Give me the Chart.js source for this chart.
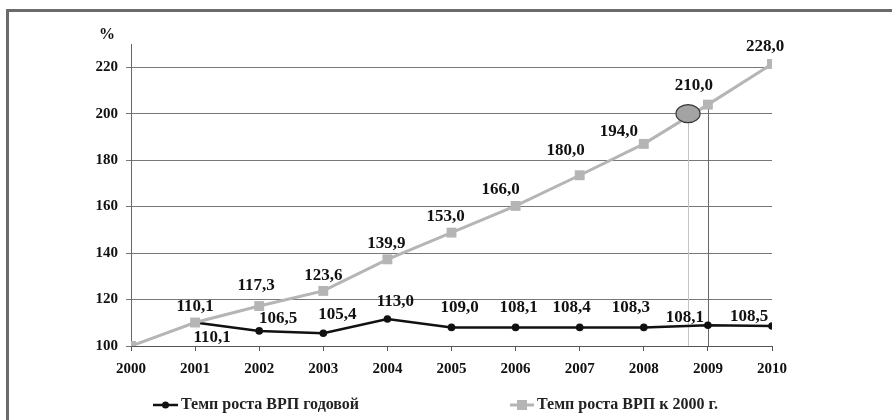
<!DOCTYPE html>
<html>
<head>
<meta charset="utf-8">
<script src="https://cdn.jsdelivr.net/npm/chart.js@4.4.1/dist/chart.umd.min.js"></script>
<style>
    html, body { margin: 0; padding: 0; background: #fff; }
    #wrap { width: 892px; height: 420px; }
</style>
</head>
<body>
<div id="wrap"><canvas id="grpChart" width="892" height="420"></canvas></div>
<script>
/* ---------- data ---------- */

const years = ["2000", "2001", "2002", "2003", "2004", "2005", "2006", "2007", "2008", "2009", "2010"];

// annual growth, % (marker positions as drawn)
const annualGrowth = [null, 110.1, 106.5, 105.5, 111.6, 108.0, 108.0, 108.0, 108.0, 108.9, 108.6];
const annualLabels = [null, "110,1", "106,5", "105,4", "113,0", "109,0", "108,1", "108,4", "108,3", "108,1", "108,5"];

// growth vs 2000, % (marker positions as drawn)
const indexGrowth = [100, 110.1, 117.2, 123.7, 137.3, 148.8, 160.3, 173.5, 187.0, 203.9, 221.4];
const indexLabels = [null, "110,1", "117,3", "123,6", "139,9", "153,0", "166,0", "180,0", "194,0", "210,0", "228,0"];

const yTicks = [100, 120, 140, 160, 180, 200, 220];

const seriesNames = ["Темп роста ВРП годовой", "Темп роста ВРП к 2000 г."];

// grey ellipse mark and the two drop lines
const ellipseMark = { x: 8.69, y: 200 };
const dropLineX = 9;

/* ---------- label placement (px, relative to point) ---------- */

const indexLabelOffset = [null, [0, -16], [-3, -20], [0, -15], [-1, -16], [-6, -16], [-15, -16], [-14, -25], [-25, -12], [-14, -19], [-7, -17]];
const annualLabelOffset = [null, [17, 15], [19, -12], [14, -19], [8, -17], [8, -20], [3, -20], [-8, -20], [-13, -20], [-23, -8], [-23, -9]];

const GREY = "#b5b5b5";
const BLACK = "#111111";
const SERIF = "'Liberation Serif', 'Times New Roman', serif";

const toPoints = arr => arr.map((v, i) => ({ x: i, y: v }));

/* ---------- plugins ---------- */

const decor = {

    id: "decor",

    beforeDraw(chart) {
        const ctx = chart.ctx;
        ctx.save();
        ctx.fillStyle = "#fff";
        ctx.fillRect(0, 0, chart.width, chart.height);
        ctx.strokeStyle = "#6b6b6b";
        ctx.lineWidth = 3;
        ctx.beginPath();
        ctx.moveTo(7.5, chart.height);
        ctx.lineTo(7.5, 10.5);
        ctx.lineTo(chart.width, 10.5);
        ctx.stroke();
        ctx.restore();
    },

    beforeDatasetsDraw(chart) {
        const ctx = chart.ctx;
        const xs = chart.scales.x;
        const ys = chart.scales.y;
        const ex = xs.getPixelForValue(ellipseMark.x);
        const ey = ys.getPixelForValue(ellipseMark.y);
        const bottom = ys.getPixelForValue(100);
        ctx.save();
        ctx.lineWidth = 1;
        ctx.strokeStyle = "#c4c4c4";
        ctx.beginPath();
        ctx.moveTo(Math.round(ex) + 0.5, ey);
        ctx.lineTo(Math.round(ex) + 0.5, bottom);
        ctx.stroke();
        const dx = xs.getPixelForValue(dropLineX);
        ctx.strokeStyle = "#666";
        ctx.beginPath();
        ctx.moveTo(Math.round(dx) + 0.5, ys.getPixelForValue(indexGrowth[9]));
        ctx.lineTo(Math.round(dx) + 0.5, bottom);
        ctx.stroke();
        ctx.restore();
    },

    afterDatasetsDraw(chart) {
        const ctx = chart.ctx;
        const xs = chart.scales.x;
        const ys = chart.scales.y;

        // ellipse
        const ex = xs.getPixelForValue(ellipseMark.x);
        const ey = ys.getPixelForValue(ellipseMark.y);
        ctx.save();
        ctx.beginPath();
        ctx.ellipse(ex, ey, 12, 9, 0, 0, Math.PI * 2);
        ctx.fillStyle = "#a3a3a3";
        ctx.fill();
        ctx.lineWidth = 1.2;
        ctx.strokeStyle = "#333";
        ctx.stroke();

        // data labels
        ctx.font = "bold 17px " + SERIF;
        ctx.fillStyle = "#111";
        ctx.textAlign = "center";
        ctx.textBaseline = "middle";
        years.forEach((y, i) => {
            if (indexLabels[i]) {
                const o = indexLabelOffset[i];
                ctx.fillText(indexLabels[i], xs.getPixelForValue(i) + o[0], ys.getPixelForValue(indexGrowth[i]) + o[1]);
            }
            if (annualLabels[i]) {
                const o = annualLabelOffset[i];
                ctx.fillText(annualLabels[i], xs.getPixelForValue(i) + o[0], ys.getPixelForValue(annualGrowth[i]) + o[1]);
            }
        });
        ctx.restore();
    },

    afterDraw(chart) {
        const ctx = chart.ctx;
        ctx.save();

        // unit
        ctx.font = "bold 16px " + SERIF;
        ctx.fillStyle = "#111";
        ctx.textAlign = "center";
        ctx.textBaseline = "middle";
        ctx.fillText("%", 107, 35);

        // legend
        const ly = 405;
        ctx.lineCap = "butt";

        ctx.strokeStyle = BLACK;
        ctx.lineWidth = 2.5;
        ctx.beginPath();
        ctx.moveTo(153, ly);
        ctx.lineTo(178, ly);
        ctx.stroke();
        ctx.fillStyle = BLACK;
        ctx.beginPath();
        ctx.arc(165.5, ly, 3.5, 0, Math.PI * 2);
        ctx.fill();

        ctx.strokeStyle = GREY;
        ctx.lineWidth = 3;
        ctx.beginPath();
        ctx.moveTo(510, ly);
        ctx.lineTo(534, ly);
        ctx.stroke();
        ctx.fillStyle = GREY;
        ctx.fillRect(517, ly - 5, 10, 10);

        ctx.font = "bold 16px " + SERIF;
        ctx.fillStyle = "#222";
        ctx.textAlign = "left";
        ctx.fillText(seriesNames[0], 181, ly);
        ctx.fillText(seriesNames[1], 537, ly);

        ctx.restore();
    }

};

/* ---------- chart ---------- */

new Chart(document.getElementById("grpChart"), {

    type: "line",

    data: {

        datasets: [

            {
                label: seriesNames[1],
                data: toPoints(indexGrowth),
                borderColor: GREY,
                backgroundColor: GREY,
                borderWidth: 3,
                pointStyle: "rect",
                pointRadius: 7,
                pointBorderWidth: 0,
                tension: 0
            },

            {
                label: seriesNames[0],
                data: toPoints(annualGrowth),
                borderColor: BLACK,
                backgroundColor: BLACK,
                borderWidth: 2.5,
                pointStyle: "circle",
                pointRadius: 3.8,
                pointBorderWidth: 0,
                tension: 0
            }

        ]

    },

    options: {

        responsive: false,
        animation: false,
        devicePixelRatio: 1,

        layout: {
            padding: { left: 0, right: 120, top: 44, bottom: 0 }
        },

        plugins: {
            legend: { display: false },
            tooltip: { enabled: false }
        },

        scales: {

            x: {
                type: "linear",
                min: 0,
                max: 10,
                afterBuildTicks(scale) {
                    scale.ticks = years.map((y, i) => ({ value: i }));
                },
                afterFit(scale) {
                    scale.height = 74;
                },
                grid: {
                    drawOnChartArea: false,
                    drawTicks: true,
                    tickLength: 5,
                    color: "#555"
                },
                border: { color: "#555", width: 1 },
                ticks: {
                    padding: 9,
                    maxRotation: 0,
                    autoSkip: false,
                    color: "#111",
                    font: { family: SERIF, size: 15, weight: "bold" },
                    callback: v => years[v]
                }
            },

            y: {
                min: 100,
                max: 230,
                afterBuildTicks(scale) {
                    scale.ticks = yTicks.map(v => ({ value: v }));
                },
                afterFit(scale) {
                    scale.width = 131;
                },
                grid: {
                    color: "#777",
                    drawTicks: true,
                    tickLength: 5
                },
                border: { color: "#666", width: 1 },
                ticks: {
                    padding: 8,
                    color: "#111",
                    font: { family: SERIF, size: 15, weight: "bold" }
                }
            }

        }

    },

    plugins: [decor]

});
</script>
</body>
</html>
